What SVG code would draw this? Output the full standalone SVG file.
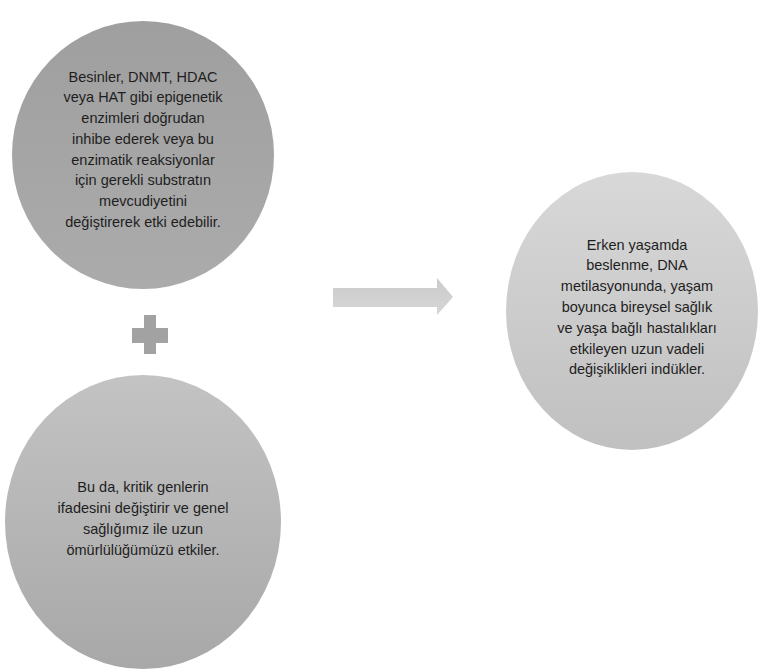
<svg xmlns="http://www.w3.org/2000/svg" width="761" height="671" viewBox="0 0 761 671">
<style>
.t{font-family:"Liberation Sans",Arial,sans-serif;font-size:14.5px;fill:#1e1e1e;text-anchor:middle}
</style>
<defs>
<linearGradient id="g1" x1="0" y1="0" x2="0" y2="1"><stop offset="0" stop-color="#9f9f9f"/><stop offset="1" stop-color="#ababab"/></linearGradient>
<linearGradient id="g2" x1="0" y1="0" x2="0" y2="1"><stop offset="0" stop-color="#c3c3c3"/><stop offset="1" stop-color="#a8a8a8"/></linearGradient>
<linearGradient id="g3" x1="0" y1="0" x2="0" y2="1"><stop offset="0" stop-color="#d8d8d8"/><stop offset="1" stop-color="#c0c0c0"/></linearGradient>
<linearGradient id="ga" x1="0" y1="0" x2="0" y2="1"><stop offset="0" stop-color="#cbcbcb"/><stop offset="1" stop-color="#d6d6d6"/></linearGradient>
</defs>
<rect width="761" height="671" fill="#ffffff"/>
<g id="node-top">
<ellipse cx="143" cy="155" rx="131" ry="134" fill="url(#g1)"/>
<text class="t" x="143" y="81.7">Besinler, DNMT, HDAC</text>
<text class="t" x="143" y="102.4">veya HAT gibi epigenetik</text>
<text class="t" x="143" y="123.1">enzimleri doğrudan</text>
<text class="t" x="143" y="143.8">inhibe ederek veya bu</text>
<text class="t" x="143" y="164.5">enzimatik reaksiyonlar</text>
<text class="t" x="143" y="185.2">için gerekli substratın</text>
<text class="t" x="143" y="205.9">mevcudiyetini</text>
<text class="t" x="143" y="226.6">değiştirerek etki edebilir.</text>
</g>
<g id="node-plus">
<rect x="144" y="315" width="12" height="39" fill="#a2a2a2"/>
<rect x="132" y="328" width="36" height="15" fill="#a2a2a2"/>
</g>
<g id="node-bottom">
<ellipse cx="143" cy="522" rx="138" ry="147" fill="url(#g2)"/>
<text class="t" x="143" y="491.7">Bu da, kritik genlerin</text>
<text class="t" x="143" y="512.7">ifadesini değiştirir ve genel</text>
<text class="t" x="143" y="533.7">sağlığımız ile uzun</text>
<text class="t" x="143" y="554.7">ömürlülüğümüzü etkiler.</text>
</g>
<g id="node-right">
<ellipse cx="632" cy="311" rx="126" ry="139" fill="url(#g3)"/>
<text class="t" x="637" y="249.5">Erken yaşamda</text>
<text class="t" x="637" y="270.3">beslenme, DNA</text>
<text class="t" x="637" y="291.1">metilasyonunda, yaşam</text>
<text class="t" x="637" y="311.9">boyunca bireysel sağlık</text>
<text class="t" x="637" y="332.7">ve yaşa bağlı hastalıkları</text>
<text class="t" x="637" y="353.5">etkileyen uzun vadeli</text>
<text class="t" x="637" y="374.3">değişiklikleri indükler.</text>
</g>
<g id="connectors">
<path d="M333 288 H437 V278 L453 297 L437 315 V307 H333 Z" fill="url(#ga)"/>
</g>
</svg>
